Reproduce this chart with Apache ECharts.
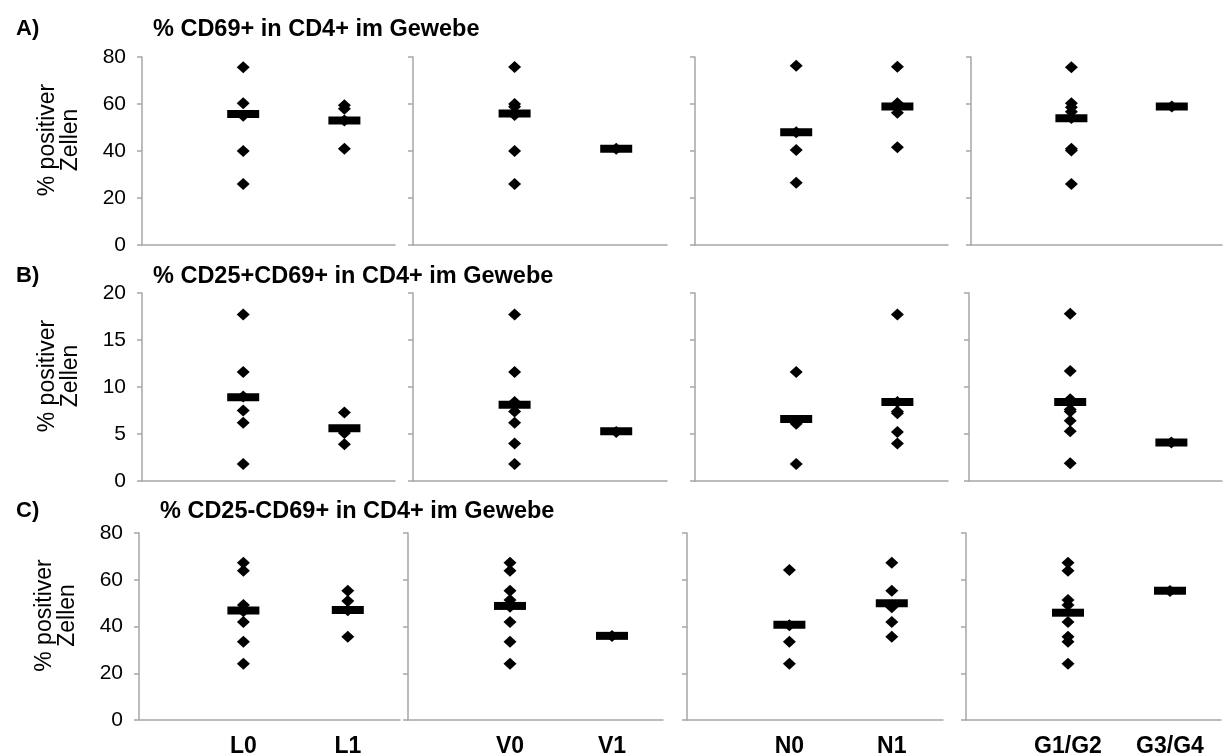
<!DOCTYPE html>
<html>
<head>
<meta charset="utf-8">
<script src="https://cdn.jsdelivr.net/npm/echarts@6/dist/echarts.min.js"></script>
<style>
  html, body { margin: 0; padding: 0; background: #fff; }
  #main { width: 1223px; height: 756px; }
</style>
</head>
<body>
<div id="main"></div>
<script>
// categories of each panel (left to right)
const panelCats = [['L0', 'L1'], ['V0', 'V1'], ['N0', 'N1'], ['G1/G2', 'G3/G4']];

// row titles
const rowLetters = ['A)', 'B)', 'C)'];
const rowTitles = [
    '% CD69+ in CD4+ im Gewebe',
    '% CD25+CD69+ in CD4+ im Gewebe',
    '% CD25-CD69+ in CD4+ im Gewebe'
];
const yName = '% positiver\nZellen';

// A) % CD69+ : single values per category, per panel
const cd69Points = [
    [[75.6, 60.3, 55, 40, 26], [59.5, 58, 53, 41]],
    [[75.7, 60, 58.8, 55.3, 40, 26], [41]],
    [[76.3, 48, 40.4, 26.5], [75.9, 60.3, 58.9, 56.3, 41.6]],
    [[75.6, 60.3, 58.6, 56.7, 54, 41, 40.2, 26], [58.9]]
];
const cd69Bars = [[55.7, 53], [56, 41], [48, 58.9], [53.9, 58.9]];

// B) % CD25+CD69+
const cd25pPoints = [
    [[17.7, 11.6, 9.0, 7.5, 6.2, 1.8], [7.3, 5.1, 3.9]],
    [[17.7, 11.6, 8.4, 7.4, 6.2, 4.0, 1.8], [5.2]],
    [[11.6, 6.1, 1.8], [17.7, 8.4, 7.4, 7.2, 5.2, 4.0]],
    [[17.8, 11.7, 8.7, 7.6, 7.4, 6.4, 5.3, 1.9], [4.1]]
];
const cd25pBars = [[8.9, 5.6], [8.1, 5.3], [6.6, 8.4], [8.4, 4.1]];

// C) % CD25-CD69+
const cd25nPoints = [
    [[67.3, 63.9, 49.2, 46.5, 41.9, 33.5, 24.1], [55.3, 50.9, 47, 35.6]],
    [[67.3, 63.9, 55.3, 51.3, 48.5, 41.9, 33.5, 24.1], [35.9]],
    [[64.2, 40.5, 33.5, 24.1], [67.3, 55.3, 48.2, 41.9, 35.6]],
    [[67.3, 63.9, 51.3, 49.2, 41.9, 35.6, 33.5, 24.1], [55.2]]
];
const cd25nBars = [[46.8, 47.1], [48.8, 36], [40.8, 49.9], [45.9, 55.3]];

const rowPoints = [cd69Points, cd25pPoints, cd25nPoints];
const rowBars = [cd69Bars, cd25pBars, cd25nBars];
const rowMax = [80, 20, 80];
const rowStep = [20, 5, 20];

// layout
const rowTop = [57, 293, 533];
const rowHeight = [188, 188, 187];
const panelX = [
    [[142, 253], [413, 254], [695, 253], [971, 251]],
    [[142, 253], [413, 254], [695, 253], [969, 253]],
    [[139, 261], [408, 255], [687, 256], [966, 255]]
];
const letterTop = [13, 260, 495];
const titleLeft = [148, 148, 155];

const font = '"Liberation Sans", Arial, sans-serif';
const axisGrey = '#a6a6a6';

const chart = echarts.init(document.getElementById('main'));

const grid = [], xAxis = [], yAxis = [], series = [], title = [];

rowLetters.forEach((l, r) => {
    title.push({
        text: l, left: 11, top: letterTop[r],
        textStyle: { fontFamily: font, fontSize: 22, fontWeight: 'bold', color: '#000' }
    });
    title.push({
        text: rowTitles[r], left: titleLeft[r], top: letterTop[r],
        textStyle: { fontFamily: font, fontSize: 23.5, fontWeight: 'bold', color: '#000' }
    });
});

for (let r = 0; r < 3; r++) {
    for (let p = 0; p < 4; p++) {
        const idx = r * 4 + p;
        const cats = panelCats[p];
        grid.push({
            left: panelX[r][p][0], width: panelX[r][p][1],
            top: rowTop[r], height: rowHeight[r],
            containLabel: false, outerBoundsMode: 'none'
        });
        xAxis.push({
            type: 'value', gridIndex: idx, min: 0, max: 2.5, interval: 0.5,
            axisLine: { show: true, onZero: false, lineStyle: { color: axisGrey, width: 1.5 } },
            axisTick: { show: false },
            splitLine: { show: false },
            axisLabel: {
                show: r === 2, margin: 15, showMinLabel: false, showMaxLabel: false,
                fontFamily: font, fontSize: 23, fontWeight: 'bold', color: '#000',
                formatter: v => (v === 1 ? cats[0] : v === 2 ? cats[1] : '')
            }
        });
        yAxis.push({
            type: 'value', gridIndex: idx, min: 0, max: rowMax[r], interval: rowStep[r],
            axisLine: { show: true, lineStyle: { color: axisGrey, width: 1.5 } },
            axisTick: { show: true, length: 5, lineStyle: { color: axisGrey, width: 1.5 } },
            splitLine: { show: false },
            axisLabel: {
                show: p === 0, margin: 16,
                fontFamily: font, fontSize: 21, color: '#000'
            },
            name: p === 0 ? yName : '',
            nameLocation: 'middle',
            nameGap: 60,
            nameRotate: 90,
            nameTextStyle: {
                fontFamily: font, fontSize: 23, color: '#000', lineHeight: 23,
                padding: [0, 0, 0, 22]
            }
        });
        const pts = [];
        rowPoints[r][p].forEach((vals, c) => vals.forEach(v => pts.push([c + 1, v])));
        series.push({
            type: 'scatter', xAxisIndex: idx, yAxisIndex: idx,
            symbol: 'diamond', symbolSize: [13, 12],
            itemStyle: { color: '#000', opacity: 1 },
            data: pts, silent: true
        });
        series.push({
            type: 'scatter', xAxisIndex: idx, yAxisIndex: idx,
            symbol: 'rect', symbolSize: [32, 8],
            itemStyle: { color: '#000', opacity: 1 },
            data: rowBars[r][p].map((v, c) => [c + 1, v]), silent: true, z: 3
        });
    }
}

chart.setOption({
    animation: false,
    backgroundColor: '#fff',
    title: title,
    grid: grid,
    xAxis: xAxis,
    yAxis: yAxis,
    series: series
});
</script>
</body>
</html>
